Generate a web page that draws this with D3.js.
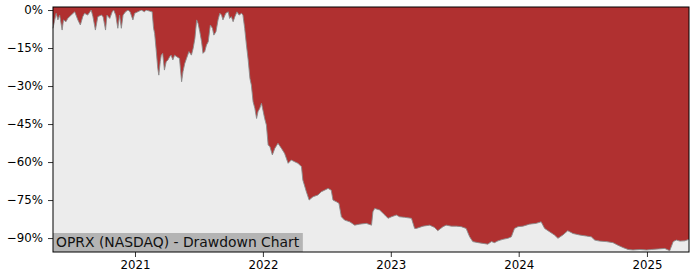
<html>
<head>
  <title>OPRX Drawdown Chart</title>
  <style>
    body {
      margin: 0;
      padding: 0;
      background-color: #ffffff;
      font-family: 'DejaVu Sans', sans-serif;
      overflow: hidden;
    }
    .tick text {
      font-family: 'DejaVu Sans', sans-serif;
      font-size: 11.8px;
      fill: #000000;
    }
    .tick line {
      stroke: #000000;
      stroke-width: 0.8;
    }
    .domain {
      display: none;
    }
  </style>
  <script src="https://d3js.org/d3.v7.min.js"></script>
</head>
<body>
  <div id="chart"></div>

  <script>
    // Drawdown from running peak, in percent
    const dates = [
      '2020-05-12', '2020-05-21', '2020-05-26', '2020-05-31', '2020-06-07', '2020-06-11', '2020-06-18', '2020-06-23',
      '2020-07-03', '2020-07-13', '2020-07-22', '2020-07-29', '2020-08-05', '2020-08-10', '2020-08-19', '2020-08-29',
      '2020-09-03', '2020-09-10', '2020-09-17', '2020-09-27', '2020-10-02', '2020-10-09', '2020-10-13', '2020-10-21',
      '2020-10-28', '2020-11-01', '2020-11-07', '2020-11-13', '2020-11-18', '2020-11-23', '2020-11-28', '2020-12-05',
      '2020-12-12', '2020-12-18', '2020-12-26', '2020-12-31',
      '2021-01-09', '2021-01-19', '2021-01-28', '2021-02-02', '2021-02-11', '2021-02-19', '2021-02-23', '2021-02-26',
      '2021-03-02', '2021-03-07', '2021-03-10', '2021-03-14', '2021-03-17', '2021-03-21', '2021-03-26', '2021-03-31',
      '2021-04-05', '2021-04-10', '2021-04-14', '2021-04-19', '2021-04-24', '2021-04-30', '2021-05-08', '2021-05-14',
      '2021-05-18', '2021-05-23', '2021-05-28', '2021-06-04', '2021-06-11', '2021-06-16', '2021-06-21', '2021-06-26',
      '2021-06-30', '2021-07-05', '2021-07-10', '2021-07-14', '2021-07-19', '2021-07-24', '2021-07-29', '2021-08-04',
      '2021-08-10', '2021-08-14', '2021-08-20', '2021-08-26', '2021-08-31', '2021-09-05', '2021-09-09', '2021-09-17',
      '2021-09-24', '2021-09-28', '2021-10-03', '2021-10-08', '2021-10-13', '2021-10-19', '2021-10-25', '2021-11-01',
      '2021-11-05', '2021-11-10', '2021-11-15', '2021-11-20', '2021-11-25', '2021-11-29', '2021-12-04', '2021-12-09',
      '2021-12-14', '2021-12-18', '2021-12-23', '2021-12-28',
      '2022-01-02', '2022-01-06', '2022-01-11', '2022-01-16', '2022-01-21', '2022-01-28', '2022-02-04', '2022-02-13',
      '2022-02-23', '2022-03-04', '2022-03-14', '2022-03-23', '2022-04-02', '2022-04-11', '2022-04-21', '2022-04-25',
      '2022-05-05', '2022-05-13', '2022-05-24', '2022-06-07', '2022-06-17', '2022-06-26', '2022-07-06', '2022-07-15',
      '2022-07-20', '2022-07-30', '2022-08-06', '2022-08-13', '2022-08-22', '2022-09-06', '2022-09-20', '2022-10-04',
      '2022-10-23', '2022-11-07', '2022-11-11', '2022-11-16', '2022-11-30', '2022-12-15', '2022-12-24',
      '2023-01-03', '2023-01-17', '2023-01-26', '2023-02-09', '2023-03-01', '2023-03-10', '2023-03-15', '2023-04-03',
      '2023-04-22', '2023-05-06', '2023-05-15', '2023-05-30', '2023-06-08', '2023-06-23', '2023-07-07', '2023-07-21',
      '2023-08-04', '2023-08-14', '2023-08-23', '2023-09-07', '2023-09-21', '2023-10-05', '2023-10-15', '2023-10-24',
      '2023-11-03', '2023-11-17', '2023-12-01', '2023-12-11', '2023-12-20', '2023-12-30',
      '2024-01-13', '2024-02-01', '2024-02-20', '2024-03-05', '2024-03-15', '2024-03-29', '2024-04-12', '2024-04-22',
      '2024-05-06', '2024-05-20', '2024-06-04', '2024-06-23', '2024-07-12', '2024-07-26', '2024-08-05', '2024-08-19',
      '2024-09-07', '2024-09-26', '2024-10-10', '2024-10-24', '2024-11-08', '2024-11-22', '2024-12-12', '2024-12-31',
      '2025-01-14', '2025-02-02', '2025-02-21', '2025-03-07', '2025-03-17', '2025-03-26', '2025-04-05', '2025-04-19',
      '2025-05-01'
    ];

    const drawdown = [
      -7.2, -1.3, -3.9, -2.0, -7.9, -3.9, -4.6, -3.3,
      -2.0, -0.7, -3.9, -5.9, -2.6, -1.3, -2.0, 0.0,
      -2.6, -7.9, -2.6, -2.0, -2.6, -7.9, -2.0, -3.3,
      -0.7, 0.0, -2.0, -7.2, -2.0, -7.2, -2.0, -0.7,
      0.0, -0.7, -3.9, -1.3,
      -0.7, 0.0, -0.7, 0.0, -0.4, -0.7, -7.2, -9.2,
      -15.1, -23.0, -25.7, -20.4, -17.8, -17.1, -23.7, -20.4,
      -19.7, -18.4, -17.8, -19.7, -17.8, -18.4, -19.1, -28.3,
      -24.3, -21.1, -19.1, -16.4, -17.8, -15.1, -11.2, -3.9,
      -5.3, -8.6, -12.5, -17.1, -16.4, -13.8, -12.5, -5.9,
      -7.2, -9.9, -8.6, -3.9, -1.3, -2.0, -3.9, -1.3,
      -0.7, -3.3, -2.6, -4.6, -2.6, -0.7, -2.0, -1.3,
      -2.0, -7.2, -13.8, -19.7, -27.0, -29.6, -36.2, -38.8,
      -42.8, -40.1, -38.8, -36.8,
      -40.1, -42.8, -45.4, -53.3, -53.9, -57.2, -54.6, -52.6,
      -54.6, -56.6, -60.5, -59.2, -59.9, -60.5, -61.8, -67.1,
      -71.7, -75.0, -73.7, -73.0, -71.7, -71.1, -70.4, -71.1,
      -75.0, -75.7, -76.3, -81.6, -82.9, -83.6, -84.9, -84.5,
      -84.2, -84.9, -79.6, -78.3, -78.9, -80.9, -82.2,
      -81.6, -80.9, -81.6, -81.8, -82.2, -86.2, -86.2, -85.3,
      -84.9, -85.8, -87.1, -85.5, -84.9, -85.3, -85.3, -85.5,
      -86.2, -89.5, -91.4, -91.8, -92.1, -92.4, -91.4, -91.8,
      -91.1, -90.5, -90.1, -89.5, -86.2, -85.5,
      -85.3, -84.5, -84.2, -83.6, -86.2, -87.5, -88.8, -90.1,
      -88.8, -87.1, -88.2, -88.8, -89.2, -89.5, -90.8, -91.2,
      -91.4, -91.8, -92.8, -93.7, -94.5, -94.7, -94.5, -94.7,
      -94.5, -94.3, -94.1, -95.0, -91.4, -90.8, -91.2, -91.1,
      -90.5
    ];

    const yTicks = [0, -15, -30, -45, -60, -75, -90];
    const xTicks = ['2021-01-01', '2022-01-01', '2023-01-01', '2024-01-01', '2025-01-01'];
    const chartTitle = 'OPRX (NASDAQ) - Drawdown Chart';

    const width = 700;
    const height = 280;
    const margin = { top: 7, right: 11, bottom: 28, left: 53 };

    const parseDate = d3.timeParse('%Y-%m-%d');
    const data = dates.map((d, i) => ({ date: parseDate(d), value: drawdown[i] }));

    const svg = d3.select('#chart')
      .append('svg')
      .attr('width', width)
      .attr('height', height);

    const x = d3.scaleTime()
      .domain(d3.extent(data, d => d.date))
      .range([margin.left, width - margin.right]);

    const y = d3.scaleLinear()
      .domain([-95.5, 1.2])
      .range([height - margin.bottom, margin.top]);

    // plot background
    svg.append('rect')
      .attr('x', margin.left)
      .attr('y', margin.top)
      .attr('width', width - margin.left - margin.right)
      .attr('height', height - margin.top - margin.bottom)
      .attr('fill', '#ececec');

    // red area between zero and the drawdown
    const area = d3.area()
      .x(d => x(d.date))
      .y0(y(0))
      .y1(d => y(d.value));

    svg.append('path')
      .datum(data)
      .attr('d', area)
      .attr('fill', '#b03030');

    const line = d3.line()
      .x(d => x(d.date))
      .y(d => y(d.value));

    svg.append('path')
      .datum(data)
      .attr('d', line)
      .attr('fill', 'none')
      .attr('stroke', '#8a8a8a')
      .attr('stroke-width', 0.9);

    // fill the small gap above zero line up to the top spine
    svg.append('rect')
      .attr('x', margin.left)
      .attr('y', margin.top)
      .attr('width', width - margin.left - margin.right)
      .attr('height', y(0) - margin.top)
      .attr('fill', '#b03030');

    const fmtPct = d => (d < 0 ? '\u2212' + Math.abs(d) : d) + '%';

    svg.append('g')
      .attr('transform', `translate(${margin.left},0)`)
      .call(d3.axisLeft(y).tickValues(yTicks).tickFormat(fmtPct).tickSize(5).tickPadding(5));

    svg.append('g')
      .attr('transform', `translate(0,${height - margin.bottom})`)
      .call(d3.axisBottom(x).tickValues(xTicks.map(parseDate)).tickFormat(d3.timeFormat('%Y')).tickSize(5).tickPadding(4));

    // label box at bottom left
    const label = svg.append('g');
    const labelText = label.append('text')
      .attr('x', margin.left + 3)
      .attr('y', height - margin.bottom - 5.5)
      .attr('font-family', 'DejaVu Sans, sans-serif')
      .attr('font-size', '13.9px')
      .attr('fill', '#111')
      .text(chartTitle);
    const bb = labelText.node().getBBox();
    label.insert('rect', 'text')
      .attr('x', margin.left)
      .attr('y', height - margin.bottom - 19)
      .attr('width', bb.width + 6)
      .attr('height', 19)
      .attr('fill', '#b4b4b4');

    // frame
    svg.append('rect')
      .attr('x', margin.left)
      .attr('y', margin.top)
      .attr('width', width - margin.left - margin.right)
      .attr('height', height - margin.top - margin.bottom)
      .attr('fill', 'none')
      .attr('stroke', '#000')
      .attr('stroke-width', 1);
  </script>
</body>
</html>
